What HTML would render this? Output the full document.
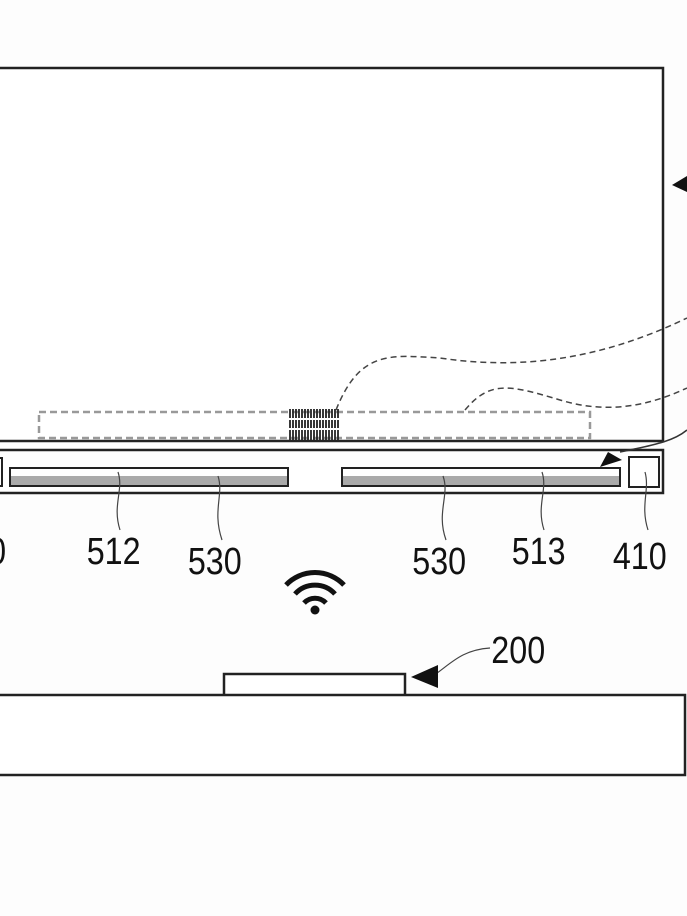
<!DOCTYPE html>
<html><head><meta charset="utf-8">
<style>html,body{margin:0;padding:0;background:#fff;}svg{display:block;}</style>
</head><body>
<svg width="687" height="916" viewBox="0 0 687 916" xmlns="http://www.w3.org/2000/svg">
<rect x="0" y="0" width="687" height="916" fill="#fdfdfd"/>
<rect x="-5" y="68" width="668" height="373" fill="#fff" stroke="#222" stroke-width="2.5"/>
<rect x="39" y="412" width="551" height="26" fill="none" stroke="#999" stroke-width="2.5" stroke-dasharray="7,4"/>
<g stroke="#222" stroke-width="1.8">
<line x1="290" y1="409" x2="290" y2="440"/><line x1="293" y1="409" x2="293" y2="440"/><line x1="296" y1="409" x2="296" y2="440"/><line x1="299" y1="409" x2="299" y2="440"/><line x1="302" y1="409" x2="302" y2="440"/><line x1="305" y1="409" x2="305" y2="440"/><line x1="308" y1="409" x2="308" y2="440"/><line x1="311" y1="409" x2="311" y2="440"/><line x1="314" y1="409" x2="314" y2="440"/><line x1="317" y1="409" x2="317" y2="440"/><line x1="320" y1="409" x2="320" y2="440"/><line x1="323" y1="409" x2="323" y2="440"/><line x1="326" y1="409" x2="326" y2="440"/><line x1="329" y1="409" x2="329" y2="440"/><line x1="332" y1="409" x2="332" y2="440"/><line x1="335" y1="409" x2="335" y2="440"/><line x1="338" y1="409" x2="338" y2="440"/>
</g>
<rect x="288" y="418" width="52" height="2" fill="#fff"/><rect x="288" y="428" width="52" height="2" fill="#fff"/>
<path d="M336,410 C360,350 390,355 440,358 C520,370 600,360 687,318" fill="none" stroke="#444" stroke-width="1.5" stroke-dasharray="6,4"/>
<path d="M465,410 C490,380 510,385 560,400 C600,412 640,410 687,388" fill="none" stroke="#444" stroke-width="1.5" stroke-dasharray="6,4"/>
<polygon points="672,185 687,176 687,192" fill="#111"/>
<rect x="-5" y="450" width="668" height="43" fill="#fff" stroke="#222" stroke-width="2.5"/>
<rect x="-3" y="458" width="5" height="28" fill="#fff" stroke="#222" stroke-width="2"/>
<rect x="10" y="468" width="278" height="18" fill="#fff" stroke="#222" stroke-width="2"/>
<rect x="11" y="476" width="276" height="9" fill="#aaa"/>
<rect x="342" y="468" width="278" height="18" fill="#fff" stroke="#222" stroke-width="2"/>
<rect x="343" y="476" width="276" height="9" fill="#aaa"/>
<rect x="629" y="457" width="30" height="30" fill="#fff" stroke="#222" stroke-width="2"/>
<path d="M687,430 C675,440 660,444 620,452" fill="none" stroke="#333" stroke-width="1.5"/>
<polygon points="600,467 608,452 622,460" fill="#111"/>
<g fill="none" stroke="#444" stroke-width="1.2">
<path d="M118,472 C124,490 112,505 120,530"/>
<path d="M218,476 C224,495 212,510 222,540"/>
<path d="M443,476 C450,495 436,512 446,540"/>
<path d="M542,472 C548,490 536,505 544,530"/>
<path d="M645,472 C650,490 640,505 648,530"/>
<path d="M430,678 C450,665 460,650 490,648"/>
</g>
<g font-family="Liberation Sans, sans-serif" font-size="38" fill="#111">
<text x="-14" y="564" transform="scale(0.85,1)">0</text>
<text x="102" y="564" transform="scale(0.85,1)">512</text>
<text x="221" y="574" transform="scale(0.85,1)">530</text>
<text x="485" y="574" transform="scale(0.85,1)">530</text>
<text x="602" y="564" transform="scale(0.85,1)">513</text>
<text x="721" y="569" transform="scale(0.85,1)">410</text>
<text x="578" y="663" transform="scale(0.85,1)">200</text>
</g>
<g fill="none" stroke="#111" stroke-width="5" stroke-linecap="butt">
<path d="M286,585 A40,40 0 0 1 344,585"/>
<path d="M295,594 A27,27 0 0 1 335,594"/>
<path d="M304,603 A15,15 0 0 1 326,603"/>
</g>
<circle cx="315" cy="610" r="4.5" fill="#111"/>
<polygon points="411,677 438,665 438,688" fill="#111"/>
<rect x="224" y="674" width="181" height="22" fill="#fff" stroke="#222" stroke-width="2.5"/>
<rect x="-5" y="695" width="690" height="80" fill="#fff" stroke="#222" stroke-width="2.5"/>
</svg>
</body></html>
